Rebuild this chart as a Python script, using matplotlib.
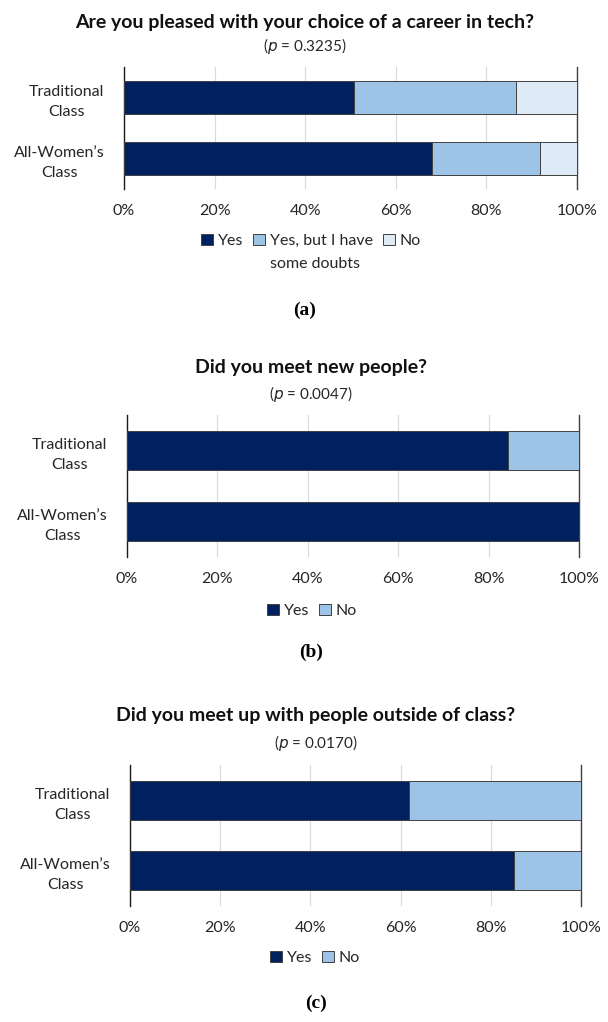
import matplotlib.pyplot as plt
from matplotlib.patches import Patch
import matplotlib.ticker as ticker

W, H = 608, 1022

categories = ["Traditional\nClass", "All-Women\u2019s\nClass"]

# (a) pleased with career choice
a_yes = [50.8, 67.9]
a_doubt = [35.7, 24.0]
a_no = [13.5, 8.1]

# (b) met new people
b_yes = [84.2, 100.0]
b_no = [15.8, 0.0]

# (c) met up outside class
c_yes = [61.9, 85.1]
c_no = [38.1, 14.9]

titles = [
    "Are you pleased with your choice of a career in tech?",
    "Did you meet new people?",
    "Did you meet up with people outside of class?",
]
pvalues = ["0.3235", "0.0047", "0.0170"]
captions = ["(a)", "(b)", "(c)"]

DARK = "#002060"
MID = "#9dc3e6"
LIGHT = "#deebf7"
EDGE = "#404040"
TXT = "#262626"

plt.rcParams["font.family"] = ["Lato", "DejaVu Sans"]

fig = plt.figure(figsize=(W / 100, H / 100), dpi=100)


def px_axes(left, top, right, bottom):
    return fig.add_axes([left / W, 1 - bottom / H, (right - left) / W, (bottom - top) / H])


def draw_panel(series, colors, labels, box, title_y, title_x, p_y, leg_y, leg_x, cap_y, title, pval, cap):
    ax = px_axes(*box)
    y = [0, 1]
    left = [0, 0]
    for vals, col in zip(series, colors):
        ax.barh(y, vals, left=left, height=0.55, color=col, edgecolor=EDGE, linewidth=0.7, zorder=3)
        left = [l + v for l, v in zip(left, vals)]
    ax.set_xlim(0, 100)
    ax.set_ylim(1.5, -0.5)
    ax.xaxis.set_major_locator(ticker.MultipleLocator(20))
    ax.xaxis.set_major_formatter(ticker.FuncFormatter(lambda v, _: f"{v:.0f}%"))
    ax.set_yticks(y)
    ax.set_yticklabels(categories, multialignment="center", fontsize=11.5, color=TXT, linespacing=1.55)
    ax.tick_params(axis="x", labelsize=11.5, colors=TXT, length=0, pad=11)
    ax.tick_params(axis="y", length=0, pad=14)
    ax.grid(axis="x", color="#d9d9d9", linewidth=0.8, zorder=0)
    for s in ["top", "bottom"]:
        ax.spines[s].set_visible(False)
    ax.spines["left"].set_color("#1a1a1a")
    ax.spines["left"].set_linewidth(1.0)
    ax.spines["right"].set_color("#404040")
    ax.spines["right"].set_linewidth(1.0)

    fig.text(title_x / W, 1 - title_y / H, title, ha="center", va="center",
             fontsize=14, fontweight="bold", color="#111111")
    fig.text(title_x / W, 1 - p_y / H, f"($p$ = {pval})", ha="center", va="center",
             fontsize=11, color=TXT)

    # legend: first line of each label in the legend, wrapped remainder added below
    first = [lab.split("\n")[0] for lab in labels]
    handles = [Patch(facecolor=c, edgecolor=EDGE, linewidth=0.7) for c in colors]
    leg = fig.legend(handles, first, loc="center", bbox_to_anchor=(leg_x / W, 1 - leg_y / H),
                     ncol=len(labels), frameon=False, fontsize=11.5, handlelength=0.75,
                     handleheight=0.75, handletextpad=0.3, columnspacing=0.6,
                     labelcolor=TXT)
    fig.canvas.draw()
    for lab, txt in zip(labels, leg.get_texts()):
        if "\n" in lab:
            bb = txt.get_window_extent()
            fig.text(bb.x0 / W, (bb.y0 - 23) / H + 0.0, lab.split("\n", 1)[1],
                     ha="left", va="bottom", fontsize=11.5, color=TXT)

    fig.text(title_x / W, 1 - cap_y / H, cap, ha="center", va="center",
             fontsize=14, fontweight="bold", family="Liberation Serif")


draw_panel([a_yes, a_doubt, a_no], [DARK, MID, LIGHT],
           ["Yes", "Yes, but I have\nsome doubts", "No"],
           (124, 67, 577, 189), 22, 305, 46, 241, 311, 310,
           titles[0], pvalues[0], captions[0])

draw_panel([b_yes, b_no], [DARK, MID], ["Yes", "No"],
           (127, 415, 579, 557), 368, 311, 394, 611, 312, 652,
           titles[1], pvalues[1], captions[1])

draw_panel([c_yes, c_no], [DARK, MID], ["Yes", "No"],
           (130, 765, 581, 906), 716, 316, 743, 958, 315, 1003,
           titles[2], pvalues[2], captions[2])

fig.savefig("out.png", dpi=100)
